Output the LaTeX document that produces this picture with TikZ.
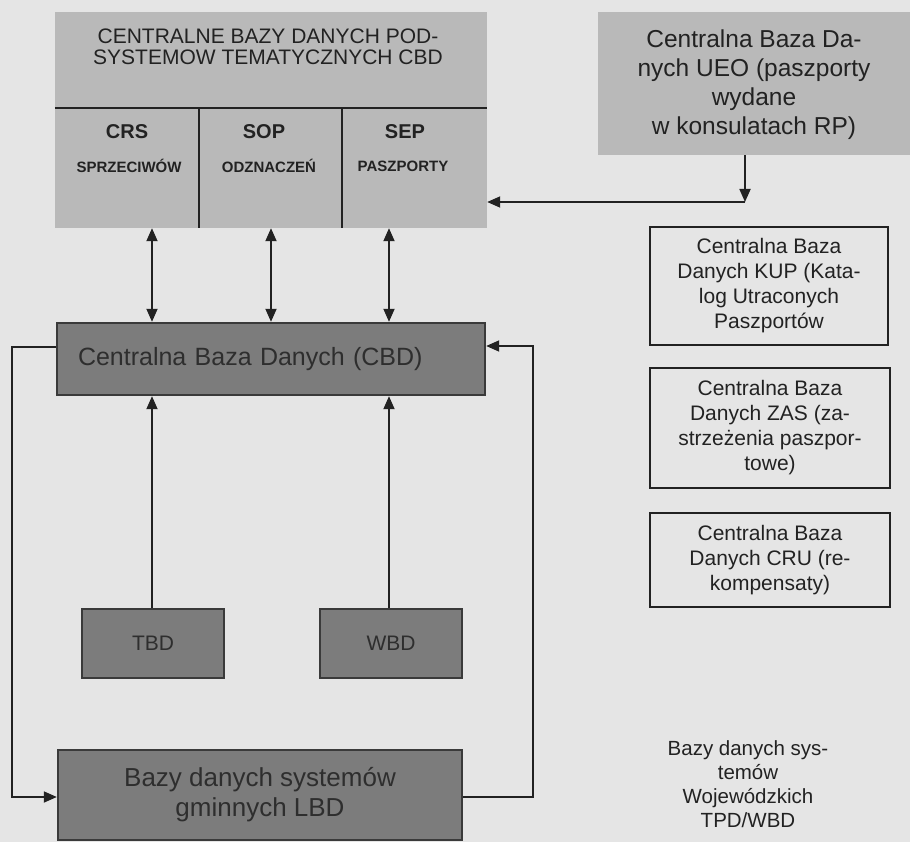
\documentclass[tikz,border=0pt]{standalone}
\usepackage{fontspec}
\setmainfont{Liberation Sans}
\usetikzlibrary{arrows.meta}

\definecolor{paper}{HTML}{E5E5E5}
\definecolor{lightfill}{HTML}{B9B9B9}
\definecolor{darkfill}{HTML}{7C7C7C}
\definecolor{darkedge}{HTML}{3A3A3A}
\definecolor{ink}{HTML}{222222}
\definecolor{dimink}{HTML}{2E2E2E}

\begin{document}
\begin{tikzpicture}[x=1pt,y=-1pt,
  lightbox/.style={fill=lightfill, draw=none, inner sep=0pt},
  darkbox/.style={fill=darkfill, draw=darkedge, line width=2.4pt, inner sep=0pt,
    text=dimink, align=center},
  sidebox/.style={draw=ink, line width=1.8pt, inner sep=0pt, align=center, text=ink,
    font=\fontsize{21}{25}\selectfont},
  divider/.style={draw=ink, line width=2pt},
  link/.style={draw=ink, line width=1.8pt},
  tip/.style={link, -{Triangle[length=13pt,width=11pt]}},
  dbl/.style={link, {Triangle[length=13pt,width=11pt]}-{Triangle[length=13pt,width=11pt]}},
  collabel/.style={font=\fontsize{20}{22}\bfseries\selectfont, text=ink, inner sep=0pt},
  colsub/.style={font=\fontsize{15}{17}\bfseries\selectfont, text=ink, inner sep=0pt},
]
% page background
\path[fill=paper] (0,0) rectangle (910,842);
\useasboundingbox (0,0) rectangle (910,842);

% thematic subsystem databases
\node[lightbox, minimum width=432pt, minimum height=216pt] (cbdsub) at (271,120) {};
\node[font=\fontsize{21}{20.5}\selectfont, align=center, text=ink, inner sep=0pt] (head)
  at (268,47) {CENTRALNE BAZY DANYCH POD-\\SYSTEMOW TEMATYCZNYCH CBD};
\coordinate (rowline) at (0,108);
\coordinate (colsplitA) at (199,0);
\coordinate (colsplitB) at (342,0);
\draw[divider] (rowline -| cbdsub.west) -- (rowline -| cbdsub.east);
\draw[divider] (colsplitA |- rowline) -- (colsplitA |- cbdsub.south);
\draw[divider] (colsplitB |- rowline) -- (colsplitB |- cbdsub.south);
\node[collabel] (crs) at (127,132) {CRS};
\node[collabel] (sop) at (264,132) {SOP};
\node[collabel] (sep) at (405,132) {SEP};
\node[colsub] (crssub) at (129,166) {SPRZECIWÓW};
\node[colsub] (sopsub) at (269,166) {ODZNACZEŃ};
\node[colsub] (sepsub) at (403,166) {PASZPORTY};

% UEO database
\node[lightbox, minimum width=314pt, minimum height=143pt] (ueo) at (755,83.5) {};
\node[font=\fontsize{24.5}{29}\selectfont, align=center, text=ink, inner sep=0pt] (ueotext)
  at (754,85) {Centralna Baza Da-\\nych UEO (paszporty\\wydane\\w konsulatach RP)};

% side databases
\node[sidebox, minimum width=238pt, minimum height=118pt] (kup) at (769,286)
  {Centralna Baza\\Danych KUP (Kata-\\log Utraconych\\Paszportów};
\node[sidebox, minimum width=240pt, minimum height=120pt] (zas) at (770,428)
  {Centralna Baza\\Danych ZAS (za-\\strzeżenia paszpor-\\towe)};
\node[sidebox, minimum width=240pt, minimum height=94pt] (cru) at (770,560)
  {Centralna Baza\\Danych CRU (re-\\kompensaty)};
\node[font=\fontsize{20.5}{24}\selectfont, align=center, text=ink, inner sep=0pt] (tpd)
  at (748,784) {Bazy danych sys-\\temów\\Wojewódzkich\\TPD/WBD};

% central, regional and local databases
\node[darkbox, minimum width=428pt, minimum height=72pt, align=left, text width=386pt,
  inner xsep=21pt, font=\fontsize{25}{28}\selectfont] (cbd) at (271,359)
  {Centralna Baza Danych (CBD)};
\node[darkbox, minimum width=142pt, minimum height=69pt, font=\fontsize{21}{24}\selectfont]
  (tbd) at (153,643.5) {TBD};
\node[darkbox, minimum width=142pt, minimum height=69pt, font=\fontsize{21}{24}\selectfont]
  (wbd) at (391,643.5) {WBD};
\node[darkbox, minimum width=404pt, minimum height=90pt, font=\fontsize{26}{30}\selectfont]
  (lbd) at (260,795) {Bazy danych systemów\\gminnych LBD};

% UEO feed into the subsystem block
\coordinate (ueobend) at (745,202);
\draw[tip] (ueobend |- ueo.south) -- (ueobend);
\draw[tip] (ueobend) -- (ueobend -| cbdsub.east);

% two-way links between subsystems and CBD
\coordinate (linkA) at (152,0);
\coordinate (linkB) at (271,0);
\coordinate (linkC) at (389,0);
\draw[dbl] (linkA |- cbdsub.south) -- (linkA |- cbd.north);
\draw[dbl] (linkB |- cbdsub.south) -- (linkB |- cbd.north);
\draw[dbl] (linkC |- cbdsub.south) -- (linkC |- cbd.north);

% regional databases up to CBD
\draw[tip] (tbd.north -| linkA) -- (linkA |- cbd.south);
\draw[tip] (wbd.north -| linkC) -- (linkC |- cbd.south);

% loops between CBD and LBD
\coordinate (leftTop) at (12,347);
\coordinate (leftBot) at (12,797);
\draw[tip] (leftTop -| cbd.west) -- (leftTop) -- (leftBot) -- (leftBot -| lbd.west);
\coordinate (rightTop) at (533,346);
\coordinate (rightBot) at (533,797);
\draw[tip] (rightBot -| lbd.east) -- (rightBot) -- (rightTop) -- (rightTop -| cbd.east);
\end{tikzpicture}
\end{document}
